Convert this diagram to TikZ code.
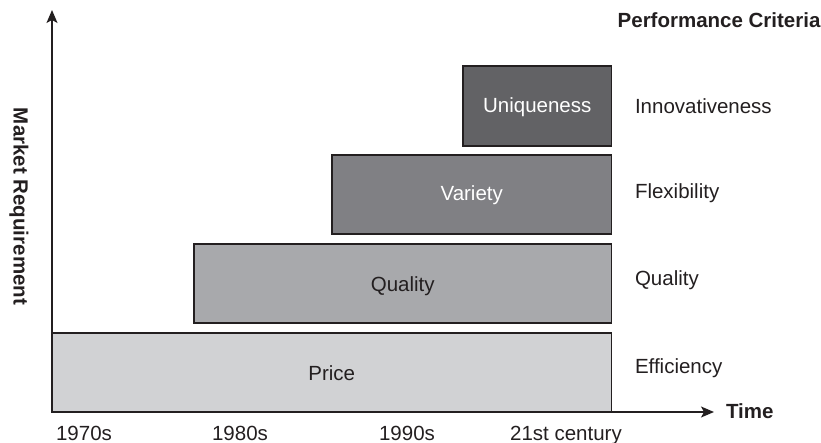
\documentclass[tikz,border=0pt]{standalone}
\usepackage{fontspec}
\setmainfont{Liberation Sans}
\usetikzlibrary{arrows.meta}
\definecolor{ink}{HTML}{231F20}
\definecolor{tierA}{HTML}{D1D2D4}
\definecolor{tierB}{HTML}{A8A9AC}
\definecolor{tierC}{HTML}{808084}
\definecolor{tierD}{HTML}{626265}
\begin{document}
\begin{tikzpicture}[x=1pt,y=-1pt,
  every node/.style={font=\fontsize{20.5}{24}\selectfont, text=ink, inner sep=0pt, outer sep=0pt},
  tier/.style={draw=ink, line width=1.4pt, anchor=north west, minimum height=79pt},
  tierlabel/.style={anchor=base},
  crit/.style={anchor=base west},
  era/.style={anchor=base},
  axis/.style={draw=ink, line width=1.3pt, -{Stealth[length=13pt,width=11pt,inset=3pt]}},
  heading/.style={font=\fontsize{20.5}{24}\selectfont\bfseries}]
  \useasboundingbox (0,0) rectangle (821,443);

  % stacked requirement tiers
  \node[tier, fill=tierA, minimum width=559.5pt] (price) at (52,333) {};
  \node[tier, fill=tierB, minimum width=417.5pt] (quality) at (194,244) {};
  \node[tier, fill=tierC, minimum width=279.5pt] (variety) at (332,155) {};
  \node[tier, fill=tierD, minimum width=148.5pt, minimum height=80pt] (unique) at (463,66) {};

  \node[tierlabel] at (331.75,380) {Price};
  \node[tierlabel] at (402.75,291) {Quality};
  \node[tierlabel, text=white] at (471.75,201) {Variety};
  \node[tierlabel, text=white] at (537.25,113) {Uniqueness};

  % axes
  \coordinate (origin) at (52,412);
  \coordinate (ytip) at (52,10);
  \coordinate (xtip) at (714,412);
  \draw[axis] (origin) -- (ytip);
  \draw[axis] (origin) -- (xtip);

  \node[heading, anchor=base west] (time) at (726,418) {Time};
  \node[heading, anchor=base east] (crithead) at (820.5,28) {Performance Criteria};
  \node[heading, rotate=-90, anchor=base] (market) at (13.5,206.5) {Market Requirement};

  % performance criteria column
  \node[crit] (innov) at (635,114) {Innovativeness};
  \node[crit] (flex) at (635,198.5) {Flexibility};
  \node[crit] (qual) at (635,286) {Quality};
  \node[crit] (eff) at (635,373) {Efficiency};

  % time periods
  \node[era] (e70) at (84,440) {1970s};
  \node[era] (e80) at (240,440) {1980s};
  \node[era] (e90) at (407,440) {1990s};
  \node[era] (e21) at (566,440) {21st century};
\end{tikzpicture}
\end{document}
